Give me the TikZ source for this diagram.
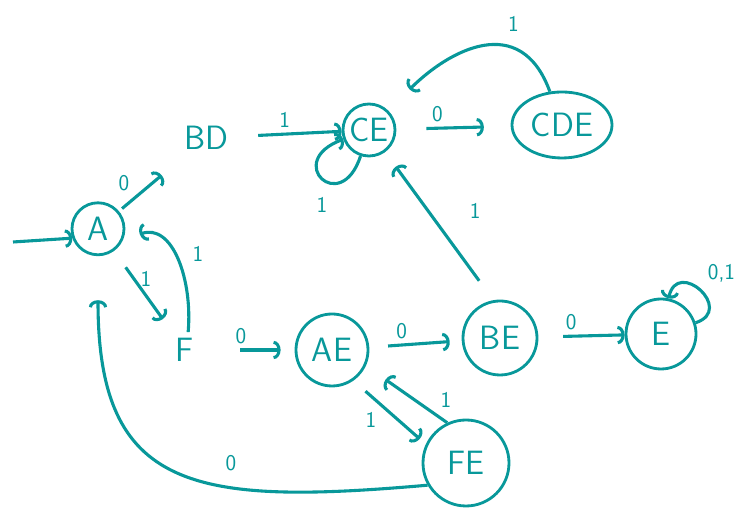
\documentclass[tikz,border=0pt]{standalone}
\usepackage{tikz}
\usetikzlibrary{arrows.meta,shapes.geometric}
\definecolor{ink}{RGB}{8,152,154}
\tikzstyle{state}=[circle,draw=ink,line width=2pt,inner sep=0pt,font=\sffamily\fontsize{24}{28}\selectfont]
\tikzstyle{plain}=[font=\sffamily\fontsize{24}{28}\selectfont]
\tikzstyle{lbl}=[font=\sffamily\fontsize{16}{18}\selectfont]

\begin{document}
\begin{tikzpicture}[>={Arc Barb[length=5pt,width=13pt]}, line width=2.2pt, ink]
\useasboundingbox (0,0) rectangle (18.85,12.8);

\coordinate (in) at (0.325, 6.75);
\node[state, minimum size=1.3cm] (A) at (2.45, 7.08) {A};
\node[plain] (BD) at (5.15, 9.35) {BD};
\node[state, minimum size=1.3cm] (CE) at (9.225, 9.55) {CE};
\node[state, ellipse, minimum width=2.5cm, minimum height=1.65cm] (CDE) at (14.05, 9.675) {CDE};

\node[plain] (F) at (4.625, 4.05) {F};
\node[state, minimum size=1.8cm] (AE) at (8.3, 4.05) {AE};
\node[state, minimum size=1.85cm] (BE) at (12.5, 4.35) {BE};
\node[state, minimum size=1.75cm] (E) at (16.525, 4.45) {E};
\node[state, minimum size=2.15cm] (FE) at (11.65, 1.225) {FE};

\draw[->] (in) -- (A.200);

\draw[->] (A) edge[shorten <=0.1cm, shorten >=0.75cm] node[lbl, pos=0.25, above left] {0} (BD);
\draw[->] (BD) edge[shorten <=0.6cm] node[lbl, pos=0.47, above] {1} (CE);
\draw[->] (CE) edge[loop, out=252, in=200, min distance=1.6cm] node[lbl, below=9pt] {1} (CE);
\draw[->] (CE) edge[shorten <=0.75cm, shorten >=0.67cm] node[lbl, pos=0.36, above] {0} (CDE);
\draw[->] (CDE) edge[out=110, in=45, looseness=1.35, shorten >=0.75cm] node[lbl, pos=0.3, above=8pt] {1} (CE);
\draw[->, shorten <=0.6cm, shorten >=0.45cm] (BE.100) to node[lbl, pos=0.6, right=25pt] {1} (CE);

\draw[->] (A) edge[shorten <=0.5cm, shorten >=0.4cm] node[lbl, pos=0.35, right] {1} (F);
\draw[->, shorten >=0.45cm] (F.80) to[out=85, in=20, looseness=1.2] node[lbl, pos=0.55, right=10pt] {1} (A.-25);

\draw[->] (F) edge[shorten <=1cm, shorten >=0.35cm] node[lbl, pos=0.43, above] {0} (AE);
\draw[->] (AE) edge[shorten <=0.47cm, shorten >=0.3cm] node[lbl, pos=0.35, above] {0} (BE);
\draw[->] (BE) edge[shorten <=0.62cm] node[lbl, pos=0.38, above] {0} (E);
\draw[->] (E) edge[loop, out=18, in=78, min distance=1.05cm] node[lbl, above right=1pt] {0,1} (E);

\draw[->, shorten <=0.4cm, shorten >=0.2cm] (AE.-55) to node[lbl, pos=0.4, below left] {1} (FE.155);
\draw[->, shorten >=0.6cm] (FE.115) to node[lbl, pos=0.4, right=14pt] {1} (AE.-25);
\draw[->, shorten >=1.1cm] (FE.210) to[out=185, in=270, looseness=1.5] node[lbl, pos=0.35, above=6pt] {0} (A.270);

\end{tikzpicture}
\end{document}
